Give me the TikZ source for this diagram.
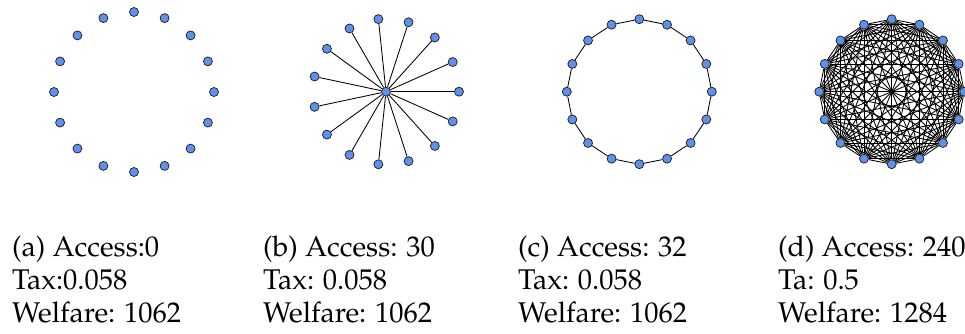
\documentclass[tikz,border=0pt]{standalone}
\usepackage[T1]{fontenc}
\usepackage{mathpazo}
\usetikzlibrary{backgrounds}
\definecolor{nodeblue}{RGB}{96,145,234}
\begin{document}
\begin{tikzpicture}[x=1pt,y=-1pt,
  vertex/.style={circle,fill=nodeblue,draw=black!90,line width=0.7pt,inner sep=0pt,minimum size=9pt},
  link/.style={line width=0.85pt,black},
  caption/.style={anchor=base west,inner sep=0pt,font=\fontsize{28.5}{34}\selectfont}]
\useasboundingbox (0,0) rectangle (965,334);

% (a) sixteen isolated players
\foreach \i in {1,...,16}
  \node[vertex] (a\i) at ({134+80*cos(90+22.5*(\i-1))},{92-80*sin(90+22.5*(\i-1))}) {};

% (b) star: one hub and fifteen leaves
\node[vertex] (b0) at (386,91.7) {};
\foreach \i in {1,...,15}
  \node[vertex] (b\i) at ({386+73*cos(24*(\i-1))},{91.7-73*sin(24*(\i-1))}) {};

% (c) ring of sixteen
\foreach \i in {1,...,16}
  \node[vertex] (c\i) at ({639.3+72.5*cos(90+22.5*(\i-1))},{91.7-72.5*sin(90+22.5*(\i-1))}) {};

% (d) complete graph on sixteen
\foreach \i in {1,...,16}
  \node[vertex] (d\i) at ({891.7+72.5*cos(90+22.5*(\i-1))},{91.7-72.5*sin(90+22.5*(\i-1))}) {};

\begin{scope}[on background layer]
  \foreach \i in {1,...,15}
    \draw[link] (b0) -- (b\i);
  \foreach \i in {1,...,16}{
    \pgfmathtruncatemacro\nxt{mod(\i,16)+1}
    \draw[link] (c\i) -- (c\nxt);
  }
  \foreach \i in {1,...,15}{
    \pgfmathtruncatemacro\st{\i+1}
    \foreach \j in {\st,...,16}
      \draw[link] (d\i) -- (d\j);
  }
\end{scope}

% captions
\node[caption] (capa1) at (12,256) {(a) Access:0};
\node[caption] (capa2) at (12,289) {Tax:0.058};
\node[caption] (capa3) at (12,322) {Welfare: 1062};

\node[caption] (capb1) at (263,256) {(b) Access: 30};
\node[caption] (capb2) at (263,289) {Tax: 0.058};
\node[caption] (capb3) at (263,322) {Welfare: 1062};

\node[caption] (capc1) at (518,256) {(c) Access: 32};
\node[caption] (capc2) at (518,289) {Tax: 0.058};
\node[caption] (capc3) at (518,322) {Welfare: 1062};

\node[caption] (capd1) at (778,256) {(d) Access: 240};
\node[caption] (capd2) at (778,289) {Ta: 0.5};
\node[caption] (capd3) at (778,322) {Welfare: 1284};
\end{tikzpicture}
\end{document}
